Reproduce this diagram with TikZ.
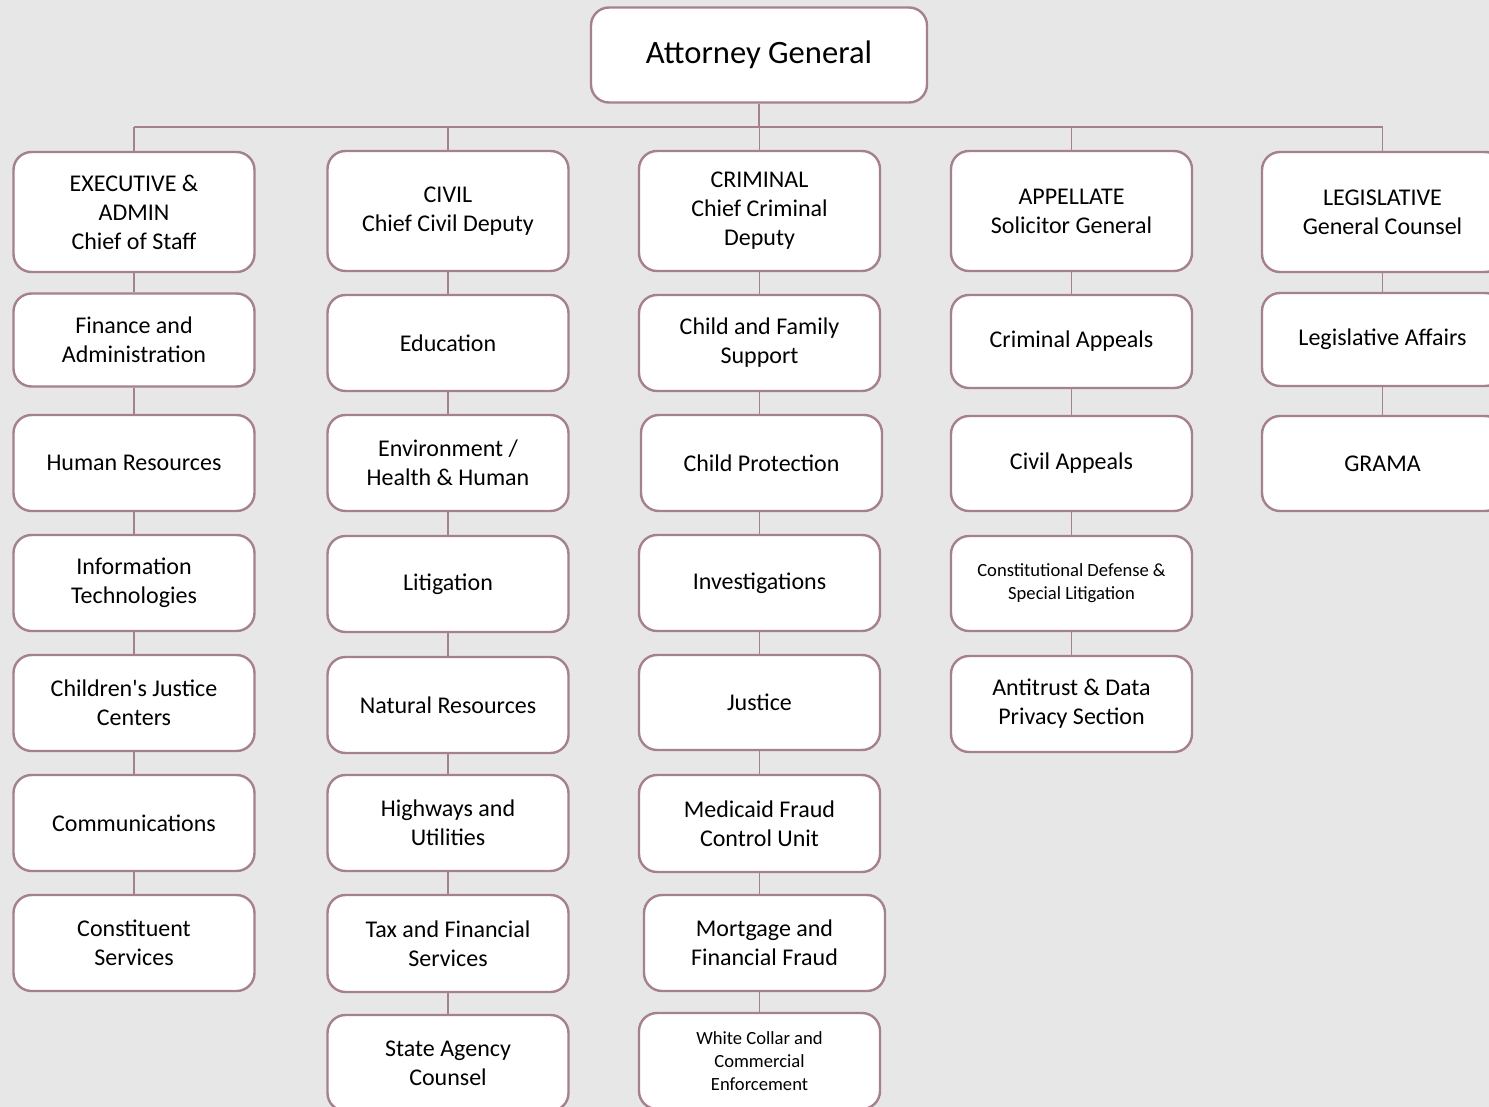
\documentclass[tikz,border=0pt]{standalone}
\usepackage{fontspec}
\setmainfont{Carlito}
\definecolor{bgc}{RGB}{231,231,231}
\definecolor{mauve}{RGB}{165,128,143}
\begin{document}
\begin{tikzpicture}[x=0.5pt,y=-0.5pt,
  box/.style={draw=mauve, line width=1.2pt, fill=white, rounded corners=9pt,
    minimum width=120.5pt, align=center, inner sep=2pt,
    font=\fontsize{12pt}{14.5pt}\selectfont},
  small/.style={font=\fontsize{9.3pt}{11.4pt}\selectfont},
  conn/.style={draw=mauve, line width=0.7pt}]
\fill[bgc] (0,0) rectangle (1489,1107);
\useasboundingbox (0,0) rectangle (1489,1107);
% top
\node[box, minimum width=168pt, minimum height=47.5pt, font=\fontsize{16.3pt}{19pt}\selectfont] (ag) at (759,55) {Attorney General};
% column 1
\node[box, minimum height=60pt] (e0) at (134,212) {EXECUTIVE \&\\ADMIN\\Chief of Staff};
\node[box, minimum height=46.5pt] (e1) at (134,340) {Finance and\\Administration};
\node[box, minimum height=48pt] (e2) at (134,463) {Human Resources};
\node[box, minimum height=48pt] (e3) at (134,583) {Information\\Technologies};
\node[box, minimum height=48pt] (e4) at (134,703) {Children\textquotesingle s Justice\\Centers};
\node[box, minimum height=48pt] (e5) at (134,823) {Communications};
\node[box, minimum height=48pt] (e6) at (134,943) {Constituent\\Services};
% column 2
\node[box, minimum height=60pt] (c0) at (448,211) {CIVIL\\Chief Civil Deputy};
\node[box, minimum height=48pt] (c1) at (448,343) {Education};
\node[box, minimum height=48pt] (c2) at (448,463) {Environment /\\Health \& Human};
\node[box, minimum height=48pt] (c3) at (448,584) {Litigation};
\node[box, minimum height=48pt] (c4) at (448,705) {Natural Resources};
\node[box, minimum height=48pt] (c5) at (448,823) {Highways and\\Utilities};
\node[box, minimum height=48.5pt] (c6) at (448,943.5) {Tax and Financial\\Services};
\node[box, minimum height=48pt] (c7) at (448,1063) {State Agency\\Counsel};
% column 3
\node[box, minimum height=60pt] (r0) at (759.5,211) {CRIMINAL\\Chief Criminal\\Deputy};
\node[box, minimum height=48pt] (r1) at (759.5,343) {Child and Family\\Support};
\node[box, minimum height=48pt] (r2) at (761.5,463) {Child Protection};
\node[box, minimum height=48pt] (r3) at (759.5,583) {Investigations};
\node[box, minimum height=47.5pt] (r4) at (759.5,702.5) {Justice};
\node[box, minimum height=48.5pt] (r5) at (759.5,823.5) {Medicaid Fraud\\Control Unit};
\node[box, minimum height=48pt] (r6) at (764.5,943) {Mortgage and\\Financial Fraud};
\node[box, small, minimum height=48pt] (r7) at (759.5,1061) {White Collar and\\Commercial\\Enforcement};
% column 4
\node[box, minimum height=60pt] (a0) at (1071.5,211) {APPELLATE\\Solicitor General};
\node[box, minimum height=46.5pt] (a1) at (1071.5,341.5) {Criminal Appeals};
\node[box, minimum height=47.5pt] (a2) at (1071.5,463.5) {Civil Appeals};
\node[box, small, minimum height=47.5pt] (a3) at (1071.5,583.5) {Constitutional Defense \&\\Special Litigation};
\node[box, minimum height=48pt] (a4) at (1071.5,704) {Antitrust \& Data\\Privacy Section};
% column 5
\node[box, minimum height=60pt] (l0) at (1382.5,212) {LEGISLATIVE\\General Counsel};
\node[box, minimum height=46.5pt] (l1) at (1382.5,339.5) {Legislative Affairs};
\node[box, minimum height=47.5pt] (l2) at (1382.5,463.5) {GRAMA};
% connectors
\coordinate (bus) at (759,127);
\draw[conn] (e0.north |- bus) -- (l0.north |- bus);
\draw[conn] (ag.south) -- (bus);
\foreach \h in {e0,c0,r0,a0,l0} \draw[conn] (\h.north) -- (\h.north |- bus);
\foreach \a/\b in {e0/e1,e1/e2,e2/e3,e3/e4,e4/e5,e5/e6,
  c0/c1,c1/c2,c2/c3,c3/c4,c4/c5,c5/c6,c6/c7,
  r0/r1,r3/r4,r4/r5,
  a0/a1,a1/a2,a2/a3,a3/a4,
  l0/l1,l1/l2}
  \draw[conn] (\a.south) -- (\b.north);
\draw[conn] (r1.south) -- (r1.south |- r2.north);
\draw[conn] (r2.south -| r3.north) -- (r3.north);
\draw[conn] (r5.south) -- (r5.south |- r6.north);
\draw[conn] (r7.north |- r6.south) -- (r7.north);
\end{tikzpicture}
\end{document}
